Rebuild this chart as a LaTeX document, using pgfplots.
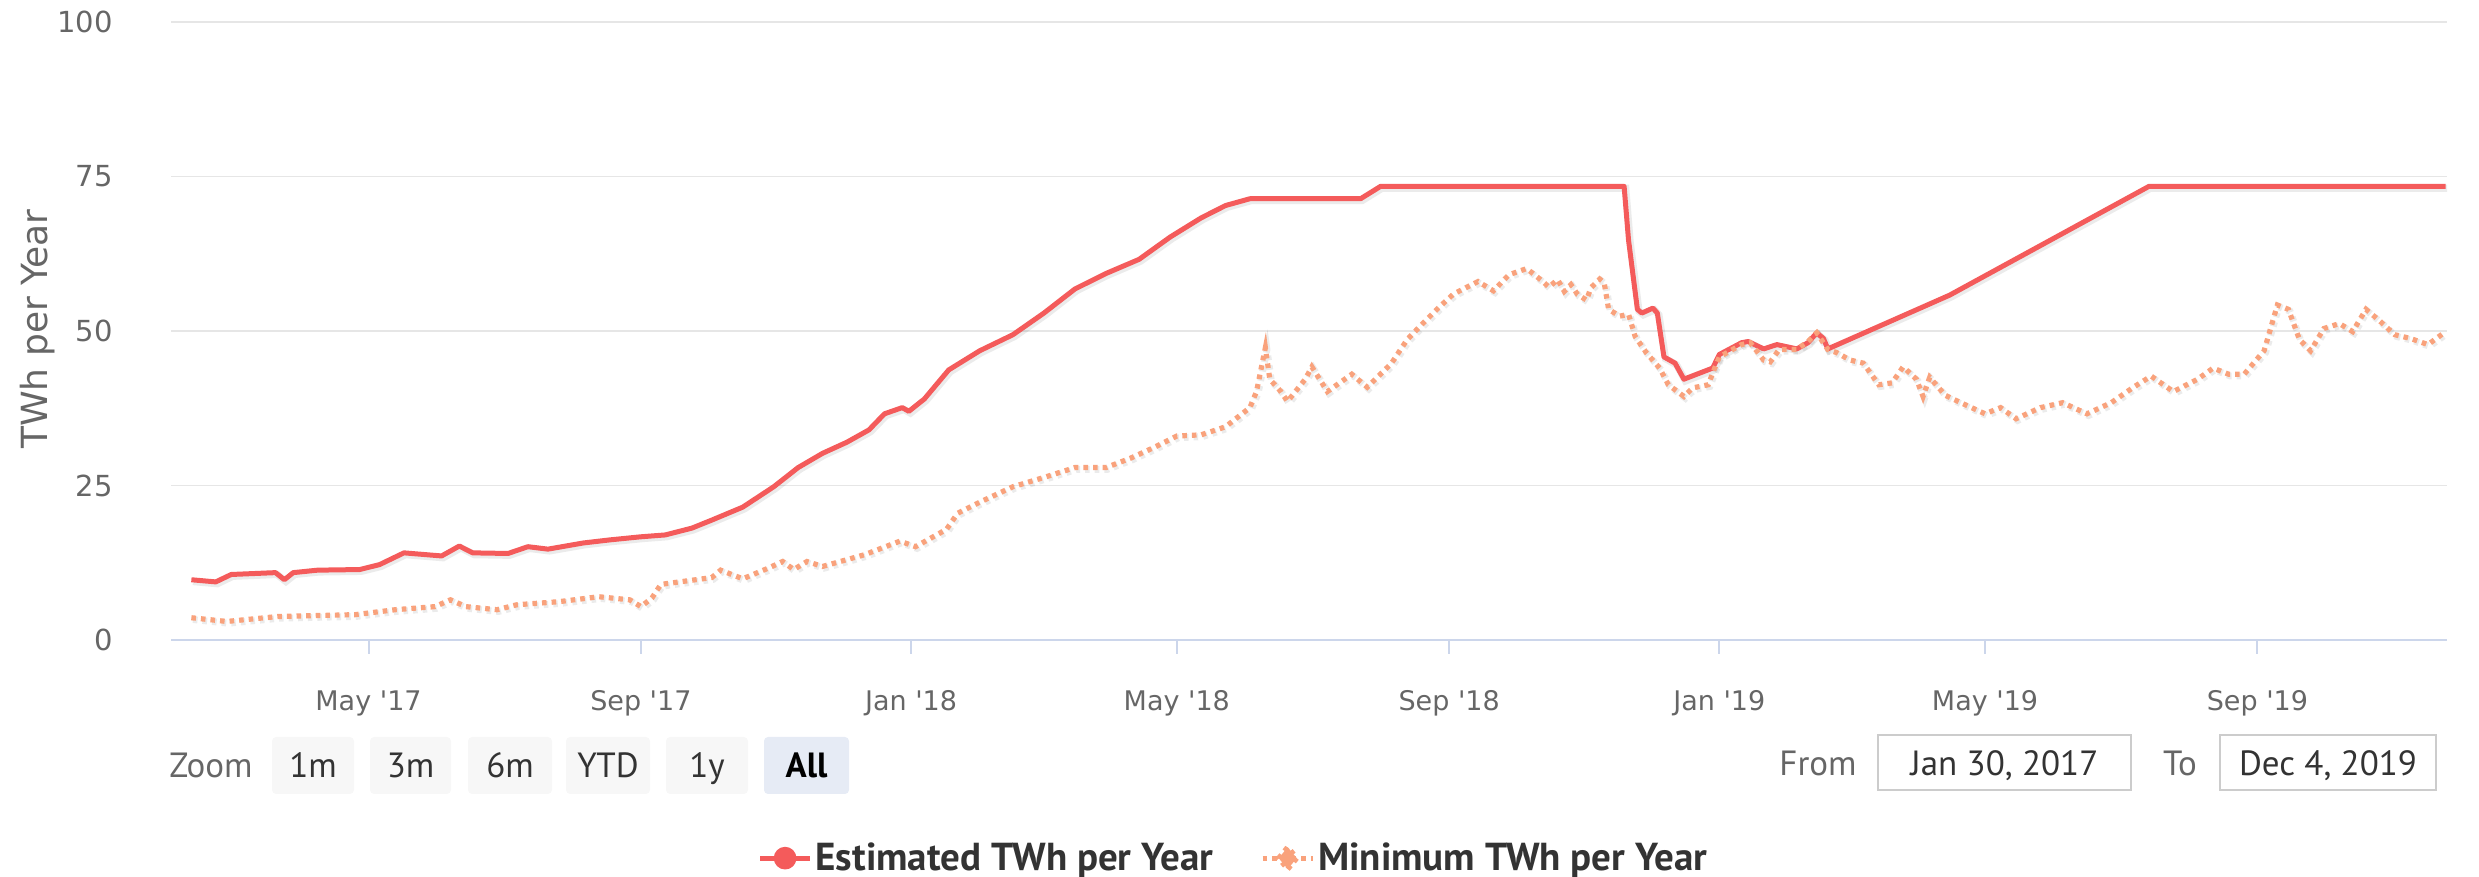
\documentclass[border=0pt]{standalone}
\usepackage{fontspec}
\setmainfont{DejaVu Sans}
\newfontfamily\ptsans{PT Sans}
\usepackage{pgfplots}
\pgfplotsset{compat=1.18}
\usepackage{pgfplotstable}

\definecolor{C-red}{HTML}{F45B5B}
\definecolor{C-or}{HTML}{F9A27C}
\definecolor{C-grid}{HTML}{E6E6E6}
\definecolor{C-axis}{HTML}{CCD6EB}
\definecolor{C-text}{HTML}{666666}
\definecolor{C-dark}{HTML}{333333}
\definecolor{C-btn}{HTML}{F7F7F7}
\definecolor{C-btnsel}{HTML}{E6EBF5}
\definecolor{C-box}{HTML}{CCCCCC}

% x = days since 1 Jan 2017
\pgfplotstableread{
day est
40 9.75
51 9.4
58 10.6
78 10.9
82 9.75
86 10.9
97 11.3
116 11.4
125 12.2
136 14.1
153 13.6
161 15.2
167 14.1
183 14.0
192 15.1
201 14.7
217 15.7
229 16.2
243 16.7
254 17.0
266 18.1
275 19.4
289 21.5
303 24.8
314 27.9
325 30.2
336 32.0
346 34.0
353 36.6
361 37.6
364 37.0
371 39.0
382 43.7
396 46.8
411 49.4
425 52.9
439 56.8
453 59.3
468 61.6
482 65.2
496 68.3
507 70.3
518 71.4
568 71.4
577 73.4
687 73.4
689 64.7
693 53.5
695 52.9
700 53.7
702 52.9
705 45.8
710 44.8
714 42.2
727 44.0
730 46.2
740 48.1
743 48.3
750 47.1
756 47.8
765 47.1
770 48.1
774 49.7
777 48.8
779 47.1
834 55.8
924 73.4
1058 73.4
}\estimated

\pgfplotstableread{
day min
40 3.6
56 3.0
79 3.8
114 4.1
132 4.9
150 5.4
157 6.5
164 5.4
178 4.9
187 5.7
206 6.2
224 7.0
238 6.5
243 5.4
248 6.8
252 9.0
275 10.1
279 11.3
289 9.9
301 11.7
307 12.7
312 11.4
318 12.7
325 11.9
344 13.8
360 16.0
367 15.1
381 17.9
386 20.5
396 22.3
411 24.8
425 26.3
439 27.9
453 27.9
464 29.4
475 31.2
485 33.0
496 33.2
507 34.5
518 37.6
521 40.2
525 47.3
527 42.2
532 40.2
535 38.6
543 42.2
546 44.2
553 40.2
564 43.0
571 40.9
582 44.8
589 48.6
596 51.2
603 53.7
610 56.0
621 58.0
628 56.5
635 59.1
643 60.1
650 58.1
653 57.1
657 58.3
660 56.4
663 57.5
666 55.9
670 55.0
672 57.0
676 58.4
678 57.8
680 53.5
685 52.4
689 52.7
692 49.1
697 46.5
703 44.0
707 41.3
714 39.4
718 40.8
725 41.3
727 43.2
730 45.8
740 47.8
744 48.1
750 45.3
753 45.0
757 47.0
765 47.0
770 48.3
774 49.7
779 47.0
783 46.5
789 45.3
795 44.8
802 41.3
808 41.6
813 44.2
819 42.2
822 39.4
825 42.5
832 39.6
839 38.4
850 36.6
857 37.6
864 35.8
875 37.6
885 38.4
896 36.6
907 38.4
917 40.9
925 42.7
935 40.2
946 42.2
953 44.0
960 43.0
967 43.0
976 46.8
982 54.2
987 53.5
992 48.6
997 46.8
1003 50.4
1010 51.2
1016 49.9
1022 53.5
1028 51.7
1035 49.4
1042 48.8
1050 47.8
1058 49.9
}\minimum

\begin{document}
\begin{tikzpicture}[x=0.5pt,y=0.5pt]
\path[use as bounding box] (0,0) rectangle (2479,877);

\begin{axis}[
  at={(85.5pt,118.5pt)}, anchor=south west,
  scale only axis, width=1138pt, height=309pt,
  xmin=30.8, xmax=1058.6, ymin=0, ymax=100,
  axis x line*=bottom, axis y line*=left,
  x axis line style={draw=C-axis, line width=1pt, -},
  y axis line style={draw=none},
  xtick={120,243,365,485,608,730,850,973},
  xticklabels={May \textquotesingle17,Sep \textquotesingle17,Jan \textquotesingle18,May \textquotesingle18,
    Sep \textquotesingle18,Jan \textquotesingle19,May \textquotesingle19,Sep \textquotesingle19},
  ytick={0,25,50,75,100},
  ymajorgrids, grid style={draw=C-grid, line width=0.7pt},
  tick align=outside, major tick length=7pt,
  xtick style={draw=C-axis, line width=1pt},
  ytick style={draw=none},
  /pgf/number format/assume math mode=true,
  yticklabel style={font=\fontsize{14.5}{16}\selectfont, text=C-text, inner sep=0pt, xshift=-22pt},
  xticklabel style={font=\fontsize{13.5}{16}\selectfont, text=C-text, inner sep=0pt, anchor=base, yshift=-28pt},
  legend style={at={(rel axis cs:0.467,-0.353)}, anchor=center, draw=none, fill=none,
    legend columns=2, font=\ptsans\bfseries\fontsize{19.5}{22}\selectfont, text=C-dark,
    nodes={inner xsep=1.5pt},
    /tikz/every even column/.append style={column sep=22pt}},
]
\addplot[forget plot, draw=black, opacity=0.08, line width=3.6pt, shift={(0.8pt,-0.9pt)}]
  table[x=day, y=est] {\estimated};
\addplot[forget plot, draw=black, opacity=0.08, line width=3.4pt, dash pattern=on 2.3pt off 2.5pt, shift={(0.8pt,-0.9pt)}]
  table[x=day, y=min] {\minimum};
\addplot[C-red, line width=2.5pt, line join=round,
  legend image code/.code={
    \draw[C-red, line width=2.5pt] (0pt,0pt) -- (25pt,0pt);
    \fill[C-red] (12.5pt,0pt) circle (4.4pt);}]
  table[x=day, y=est] {\estimated};
\addlegendentry{Estimated TWh per Year}
\addplot[C-or, line width=2.6pt, dash pattern=on 2.3pt off 2.5pt,
  legend image code/.code={
    \draw[C-or, line width=2.4pt, dash pattern=on 2.2pt off 2.6pt] (0pt,0pt) -- (25pt,0pt);
    \fill[C-or] (12.5pt,-5.5pt) -- (17pt,0pt) -- (12.5pt,5.5pt) -- (8pt,0pt) -- cycle;}]
  table[x=day, y=min] {\minimum};
\addlegendentry{Minimum TWh per Year}
\end{axis}

% y axis title
\node[rotate=90, text=C-text, font=\fontsize{18}{20}\selectfont] at (38,548) {TWh per Year};

% range selector buttons
\node[anchor=base west, inner sep=0pt, text=C-text, font=\ptsans\fontsize{17.5}{20}\selectfont] at (169,99) {Zoom};
\foreach \a/\b/\t in {272/354/1m, 370/451/3m, 468/552/6m, 566/650/YTD, 666/748/1y}{
  \fill[C-btn, rounded corners=2pt] (\a,83) rectangle (\b,140);
  \node[anchor=base, inner sep=0pt, text=C-dark, font=\ptsans\fontsize{17.5}{20}\selectfont] at ({(\a+\b)/2},99) {\t};
}
\fill[C-btnsel, rounded corners=2pt] (764,83) rectangle (849,140);
\node[anchor=base, inner sep=0pt, text=black, font=\ptsans\bfseries\fontsize{17.5}{20}\selectfont] at (806.5,99) {All};

% date inputs
\node[anchor=base, inner sep=0pt, text=C-text, font=\ptsans\fontsize{17.5}{20}\selectfont] at (1818,101) {From};
\draw[C-box, line width=1pt, fill=white] (1878,87) rectangle (2131,142);
\node[anchor=base, inner sep=0pt, text=C-dark, font=\ptsans\fontsize{17.5}{20}\selectfont] at (2004.5,101) {Jan 30, 2017};
\node[anchor=base, inner sep=0pt, text=C-text, font=\ptsans\fontsize{17.5}{20}\selectfont] at (2180,101) {To};
\draw[C-box, line width=1pt, fill=white] (2220,87) rectangle (2436,142);
\node[anchor=base, inner sep=0pt, text=C-dark, font=\ptsans\fontsize{17.5}{20}\selectfont] at (2328,101) {Dec 4, 2019};
\end{tikzpicture}
\end{document}
